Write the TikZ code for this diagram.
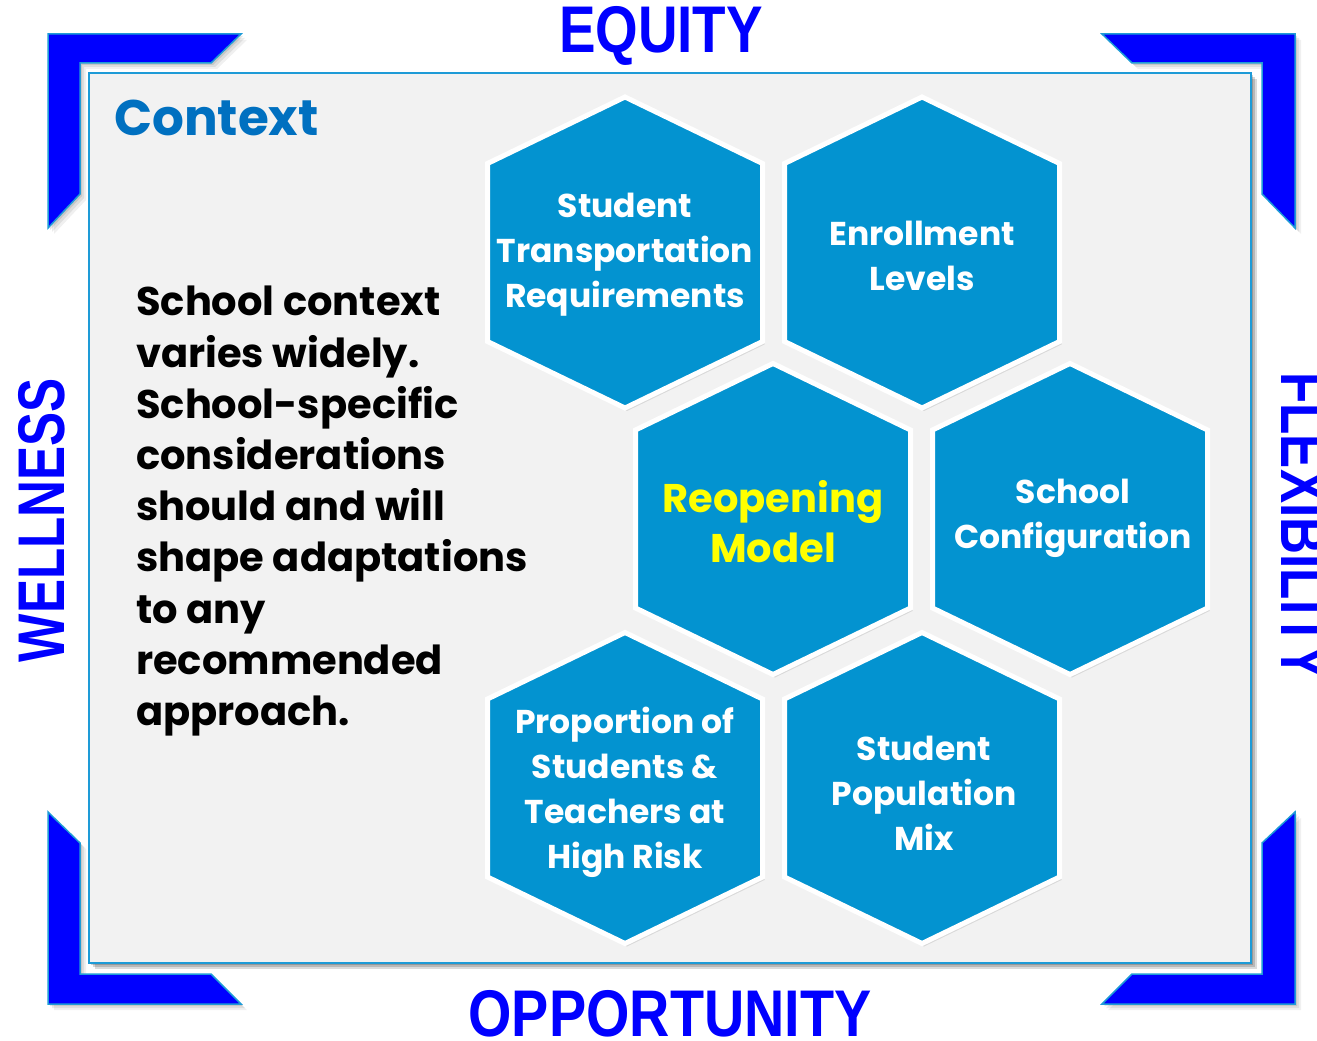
\documentclass[tikz,border=0pt]{standalone}
\usepackage{fontspec}
\setmainfont{Poppins}
\newfontfamily\labelfont{Liberation Sans}
\definecolor{hexblue}{RGB}{3,147,208}
\definecolor{panelfill}{RGB}{242,242,242}
\definecolor{panelline}{RGB}{30,155,215}
\definecolor{brackblue}{RGB}{0,0,255}
\definecolor{ctxblue}{RGB}{0,112,192}
\definecolor{modelyellow}{RGB}{255,255,0}
\tikzset{
  hexshape/.style={fill=hexblue,draw=white,line width=5pt,line join=miter},
  hextext/.style={align=center,text=white,inner sep=0pt,font={\fontsize{33}{45}\selectfont\bfseries}},
  bracket/.style={fill=brackblue,draw=panelline,line width=1.5pt,line join=miter},
  shade1/.style={fill=black,opacity=0.10},
  biglabel/.style={text=brackblue,inner sep=0pt,font={\labelfont\bfseries\fontsize{66}{66}\selectfont}}
}
\newcommand\hexat[2]{%
  \fill[shade1,shift={(#1+2,#2+3)}] (0,-155.5) -- (137.5,-89) -- (137.5,89) -- (0,155.5) -- (-137.5,89) -- (-137.5,-89) -- cycle;
  \draw[hexshape,shift={(#1,#2)}] (0,-155.5) -- (137.5,-89) -- (137.5,89) -- (0,155.5) -- (-137.5,89) -- (-137.5,-89) -- cycle;}
\begin{document}
\begin{tikzpicture}[x=1pt,y=-1pt]
\useasboundingbox (0,0) rectangle (1317,1041);
\clip (0,0) rectangle (1317,1041);
% brackets with shadows
\foreach \d/\o in {6/0.06,4/0.08,2/0.10}{
  \fill[black,opacity=\o,shift={(\d,\d)}] (48,34) -- (241,34) -- (211,63) -- (80,63) -- (80,194) -- (48,228) -- cycle;
  \fill[black,opacity=\o,shift={(\d,\d)}] (1295,34) -- (1102,34) -- (1132,63) -- (1262,63) -- (1262,194) -- (1295,228) -- cycle;
  \fill[black,opacity=\o,shift={(\d,\d)}] (1295,1004) -- (1102,1004) -- (1132,974) -- (1262,974) -- (1262,843) -- (1295,812) -- cycle;
  \fill[black,opacity=\o,shift={(\d,\d)}] (48,1004) -- (241,1004) -- (211,974) -- (80,974) -- (80,843) -- (48,812) -- cycle;
  \fill[black,opacity=\o+0.08,shift={(\d,\d)}] (89,73) rectangle (1251,963);
}
\draw[bracket] (48,34) -- (241,34) -- (211,63) -- (80,63) -- (80,194) -- (48,228) -- cycle;
\draw[bracket] (1295,34) -- (1102,34) -- (1132,63) -- (1262,63) -- (1262,194) -- (1295,228) -- cycle;
\draw[bracket] (1295,1004) -- (1102,1004) -- (1132,974) -- (1262,974) -- (1262,843) -- (1295,812) -- cycle;
\draw[bracket] (48,1004) -- (241,1004) -- (211,974) -- (80,974) -- (80,843) -- (48,812) -- cycle;
% panel
\draw[fill=panelfill,draw=panelline,line width=2pt] (89,73) rectangle (1251,963);
% labels
\node[biglabel] (equity) at (661,36) {\scalebox{0.83}[1]{EQUITY}};
\node[biglabel] (opportunity) at (670,1014) {\scalebox{0.845}[1]{OPPORTUNITY}};
\node[biglabel,rotate=90] (wellness) at (42,520) {\scalebox{0.775}[1]{WELLNESS}};
\node[biglabel,rotate=-90] (flexibility) at (1304,526) {\scalebox{0.776}[1]{FLEXIBILITY}};
\node[text=ctxblue,inner sep=0pt,anchor=west,font={\fontsize{50}{50}\selectfont\bfseries}] (context) at (114,118) {Context};
\node[align=left,anchor=north west,inner sep=0pt,text=black,font={\fontsize{40}{51.2}\selectfont\bfseries}] (para) at (136,286)
 {School context\\varies widely.\\School-specific\\considerations\\should and will\\shape adaptations\\to any\\recommended\\approach.};
% hexagons
\hexat{625}{252.5}
\hexat{922}{252.5}
\hexat{773}{519}
\hexat{1070}{519}
\hexat{625}{788}
\hexat{922}{788}
\node[hextext] (h1) at (625,255) {Student\\Transportation\\Requirements};
\node[hextext] (h2) at (922,256) {Enrollment\\Levels};
\node[hextext,text=modelyellow,font={\fontsize{40}{50}\selectfont\bfseries}] (h3) at (773,522) {Reopening\\Model};
\node[hextext] (h4) at (1073,518) {School\\Configuration};
\node[hextext] (h5) at (625,792) {Proportion of\\Students \&\\Teachers at\\High Risk};
\node[hextext] (h6) at (924,793) {Student\\Population\\Mix};
\end{tikzpicture}
\end{document}
